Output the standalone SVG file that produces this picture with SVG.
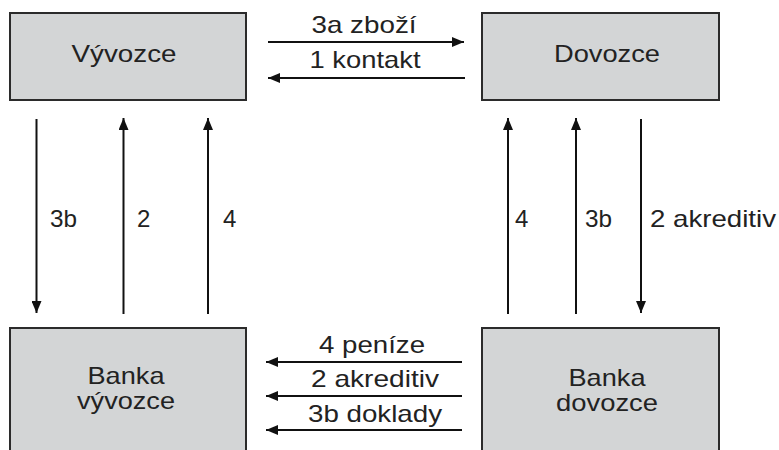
<svg xmlns="http://www.w3.org/2000/svg" width="779" height="450" viewBox="0 0 779 450">
<style>
.box{fill:#d3d5d6;stroke:#2b2b2b;stroke-width:2}
.t{font-family:"Liberation Sans",Arial,sans-serif;font-size:24px;fill:#222;lengthAdjust:spacingAndGlyphs}
.m{text-anchor:middle}
.c{stroke:#111;stroke-width:2;fill:none;marker-end:url(#ah)}
</style>
<defs>
<marker id="ah" markerUnits="userSpaceOnUse" markerWidth="12" markerHeight="10" refX="12" refY="5" orient="auto">
<path d="M0,0 L12,5 L0,10 Z" fill="#111"/>
</marker>
</defs>
<rect width="779" height="450" fill="#fff"/>
<g id="vyvozce"><rect class="box" x="10" y="13" width="236" height="87"/><text class="t m" x="124" y="62" textLength="105" lengthAdjust="spacingAndGlyphs">Vývozce</text></g>
<g id="dovozce"><rect class="box" x="482" y="13" width="237" height="87"/><text class="t m" x="607" y="62" textLength="106" lengthAdjust="spacingAndGlyphs">Dovozce</text></g>
<g id="banka-vyvozce"><rect class="box" x="10" y="328" width="236" height="140"/><text class="t m" x="126" y="384" textLength="77" lengthAdjust="spacingAndGlyphs">Banka</text><text class="t m" x="126" y="409" textLength="98" lengthAdjust="spacingAndGlyphs">vývozce</text></g>
<g id="banka-dovozce"><rect class="box" x="482" y="328" width="237" height="140"/><text class="t m" x="607" y="386" textLength="77" lengthAdjust="spacingAndGlyphs">Banka</text><text class="t m" x="607" y="411" textLength="102" lengthAdjust="spacingAndGlyphs">dovozce</text></g>
<g id="connectors">
<line class="c" x1="268" y1="42" x2="464" y2="42"/>
<line class="c" x1="465" y1="78" x2="268" y2="78"/>
<line class="c" x1="462" y1="362" x2="266" y2="362"/>
<line class="c" x1="462" y1="396" x2="266" y2="396"/>
<line class="c" x1="462" y1="430" x2="266" y2="430"/>
<line class="c" x1="36.5" y1="119" x2="36.5" y2="313"/>
<line class="c" x1="123.5" y1="314" x2="123.5" y2="118"/>
<line class="c" x1="208" y1="314" x2="208" y2="118"/>
<line class="c" x1="508" y1="314" x2="508" y2="118"/>
<line class="c" x1="576" y1="314" x2="576" y2="118"/>
<line class="c" x1="641" y1="119" x2="641" y2="313"/>
<text class="t m" x="364" y="33" textLength="105" lengthAdjust="spacingAndGlyphs">3a zboží</text>
<text class="t m" x="365" y="68" textLength="111" lengthAdjust="spacingAndGlyphs">1 kontakt</text>
<text class="t m" x="372" y="353" textLength="106" lengthAdjust="spacingAndGlyphs">4 peníze</text>
<text class="t m" x="375" y="387" textLength="128" lengthAdjust="spacingAndGlyphs">2 akreditiv</text>
<text class="t m" x="375" y="422" textLength="134" lengthAdjust="spacingAndGlyphs">3b doklady</text>
<text class="t" x="50" y="227" textLength="27" lengthAdjust="spacingAndGlyphs">3b</text>
<text class="t" x="137" y="227">2</text>
<text class="t" x="223" y="227">4</text>
<text class="t" x="515" y="227">4</text>
<text class="t" x="585" y="227" textLength="27" lengthAdjust="spacingAndGlyphs">3b</text>
<text class="t" x="650" y="227" textLength="126" lengthAdjust="spacingAndGlyphs">2 akreditiv</text>
</g>
</svg>
